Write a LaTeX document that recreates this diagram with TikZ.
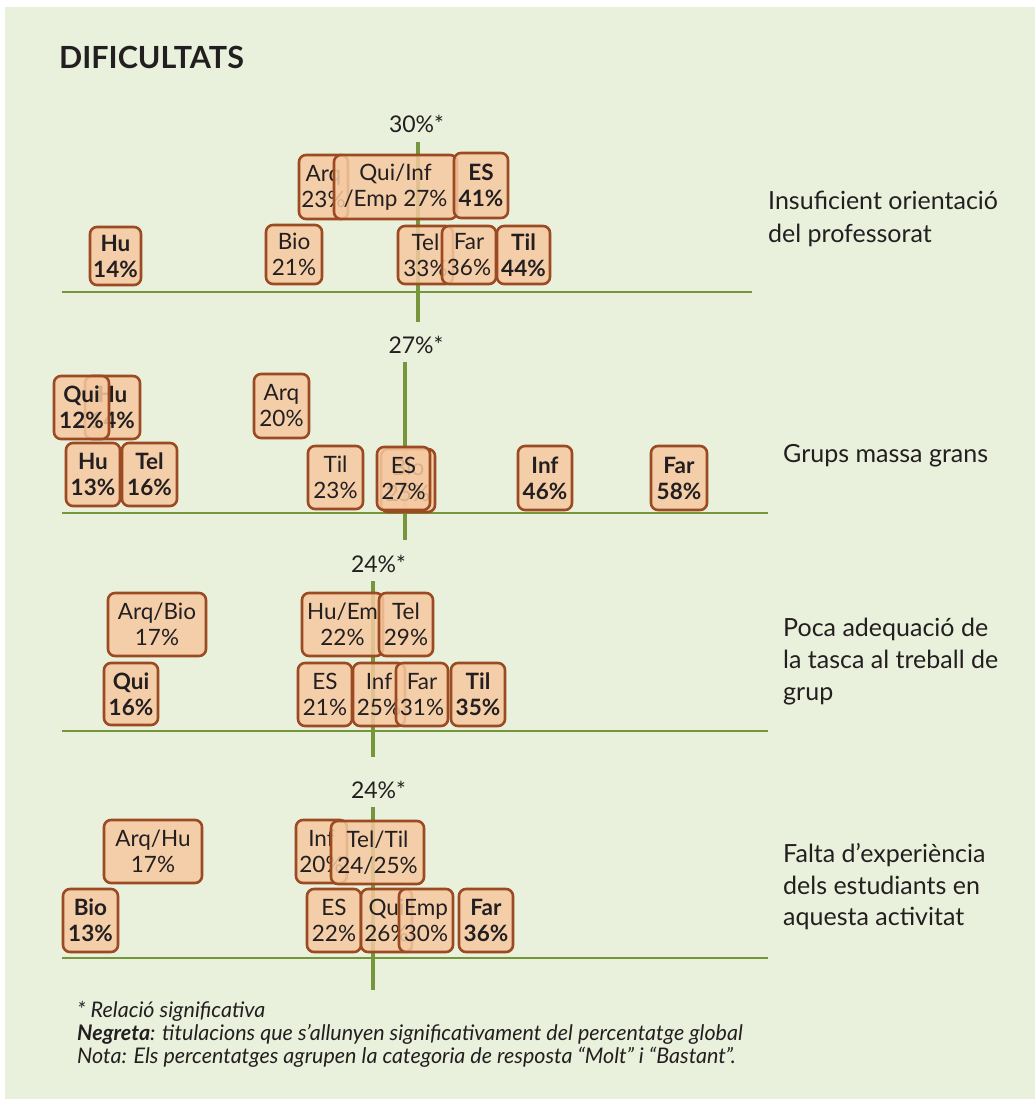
\documentclass[tikz,border=0pt]{standalone}
\usepackage{fontspec}
\setmainfont{Lato}
\definecolor{bg}{HTML}{E9F0DC}
\definecolor{grn}{HTML}{76963C}
\definecolor{boxfill}{HTML}{F6C9A0}
\definecolor{boxedge}{HTML}{9B4A22}
\definecolor{txt}{HTML}{231F20}
\begin{document}
\begin{tikzpicture}[x=1pt,y=-1pt,
  bx/.style={draw=boxedge, line width=2.6pt, fill=boxfill, fill opacity=0.85, draw opacity=1, text opacity=1, rounded corners=7pt, inner sep=0pt, align=center, text=txt, font=\fontsize{22.5}{26}\selectfont},
  bbx/.style={bx, font=\fontsize{22.5}{26}\selectfont\bfseries},
  gl/.style={draw=grn, line width=4pt},
  hl/.style={draw=grn, line width=2pt},
  pct/.style={anchor=base, text=txt, inner sep=0pt, font=\fontsize{23}{27}\selectfont},
  lab/.style={anchor=base west, text=txt, inner sep=0pt, font=\fontsize{25}{32}\selectfont},
  foot/.style={anchor=base west, text=txt, inner sep=0pt, font=\fontsize{21.5}{23}\selectfont\itshape},
]
\useasboundingbox (0,0) rectangle (1035,1099);
\fill[white] (0,0) rectangle (1035,1099);
\fill[bg] (5,7) rectangle (1035,1099);

% title
\node[anchor=base west, inner sep=0pt, text=txt, font=\fontsize{30.5}{34}\selectfont\bfseries] (title) at (59,69) {DIFICULTATS};

% ---------- panel 1 ----------
\coordinate (v1t) at (418,142); \coordinate (v1b) at (418,322);
\coordinate (h1l) at (62,292); \coordinate (h1r) at (752,292);
\draw[hl] (h1l) -- (h1r);
\draw[gl] (v1t) -- (v1b);
\node[pct] (p1pct) at (416.5,133) {30\%*};
\node[bx, minimum width=49pt, minimum height=64pt] (p1arq) at (323.5,187) {Arq\\23\%};
\node[bx, minimum width=123pt, minimum height=64pt] (p1qui) at (395.5,187) {Qui/Inf\\/Emp 27\%};
\node[bbx, minimum width=54pt, minimum height=65pt] (p1es) at (481,185.5) {ES\\41\%};
\node[bbx, minimum width=51pt, minimum height=58pt] (p1hu) at (115.5,256) {Hu\\14\%};
\node[bx, minimum width=56pt, minimum height=59pt] (p1bio) at (294,254.5) {Bio\\21\%};
\node[bx, minimum width=55pt, minimum height=58pt] (p1tel) at (425.5,255) {Tel\\33\%};
\node[bx, minimum width=54pt, minimum height=58pt] (p1far) at (469,255) {Far\\36\%};
\node[bbx, minimum width=53pt, minimum height=58pt] (p1til) at (523.5,255) {Til\\44\%};
\node[lab] (l1a) at (768,210) {Insuficient orientació};
\node[lab] (l1b) at (768,242) {del professorat};

% ---------- panel 2 ----------
\coordinate (v2t) at (405,362); \coordinate (v2b) at (405,540);
\coordinate (h2l) at (62,513); \coordinate (h2r) at (768,513);
\draw[hl] (h2l) -- (h2r);
\draw[gl] (v2t) -- (v2b);
\node[pct] (p2pct) at (416,353) {27\%*};
\node[bbx, minimum width=55pt, minimum height=63pt] (p2hua) at (112.5,407.5) {Hu\\14\%};
\node[bbx, minimum width=55pt, minimum height=63pt] (p2qui) at (81.5,407.5) {Qui\\12\%};
\node[bx, minimum width=55pt, minimum height=64pt] (p2arq) at (281.5,406) {Arq\\20\%};
\node[bbx, minimum width=54pt, minimum height=63pt] (p2hu) at (93,474.5) {Hu\\13\%};
\node[bbx, minimum width=55pt, minimum height=63pt] (p2tel) at (149.5,474.5) {Tel\\16\%};
\node[bx, minimum width=55pt, minimum height=63pt] (p2til) at (335.5,477.5) {Til\\23\%};
\node[bx, minimum width=54pt, minimum height=63pt] (p2hid) at (408,480.5) {Bio\\25\%};
\node[bx, minimum width=53pt, minimum height=63pt] (p2es) at (403.5,478.5) {ES\\27\%};
\node[bbx, minimum width=54pt, minimum height=64pt] (p2inf) at (545,478) {Inf\\46\%};
\node[bbx, minimum width=56pt, minimum height=64pt] (p2far) at (679,478) {Far\\58\%};
\node[lab] (l2a) at (783,462) {Grups massa grans};

% ---------- panel 3 ----------
\coordinate (v3t) at (373,581); \coordinate (v3b) at (373,757);
\coordinate (h3l) at (62,731); \coordinate (h3r) at (768,731);
\draw[hl] (h3l) -- (h3r);
\draw[gl] (v3t) -- (v3b);
\node[pct] (p3pct) at (378.5,572) {24\%*};
\node[bx, minimum width=98pt, minimum height=63pt] (p3arqbio) at (157,624.5) {Arq/Bio\\17\%};
\node[bx, minimum width=81pt, minimum height=63pt] (p3huem) at (342.5,624.5) {Hu/Em\\22\%};
\node[bx, minimum width=54pt, minimum height=63pt] (p3tel) at (406,624.5) {Tel\\29\%};
\node[bbx, minimum width=54pt, minimum height=62pt] (p3qui) at (131,694) {Qui\\16\%};
\node[bx, minimum width=54pt, minimum height=63pt] (p3es) at (325,694.5) {ES\\21\%};
\node[bx, minimum width=52pt, minimum height=63pt] (p3inf) at (379,694.5) {Inf\\25\%};
\node[bx, minimum width=52pt, minimum height=63pt] (p3far) at (422,694.5) {Far\\31\%};
\node[bbx, minimum width=54pt, minimum height=63pt] (p3til) at (478,694.5) {Til\\35\%};
\node[lab] (l3a) at (783,636) {Poca adequació de};
\node[lab] (l3b) at (783,668) {la tasca al treball de};
\node[lab] (l3c) at (783,700) {grup};

% ---------- panel 4 ----------
\coordinate (v4t) at (373,807); \coordinate (v4b) at (373,990);
\coordinate (h4l) at (62,958); \coordinate (h4r) at (768,958);
\draw[hl] (h4l) -- (h4r);
\draw[gl] (v4t) -- (v4b);
\node[pct] (p4pct) at (378.5,798) {24\%*};
\node[bx, minimum width=98pt, minimum height=63pt] (p4arqhu) at (153,851.5) {Arq/Hu\\17\%};
\node[bx, minimum width=51pt, minimum height=63pt] (p4inf) at (321.5,851.5) {Inf\\20\%};
\node[bx, minimum width=93pt, minimum height=63pt] (p4teltil) at (377.5,852.5) {Tel/Til\\24/25\%};
\node[bbx, minimum width=55pt, minimum height=63pt] (p4bio) at (90.5,920.5) {Bio\\13\%};
\node[bx, minimum width=54pt, minimum height=63pt] (p4es) at (334,920.5) {ES\\22\%};
\node[bx, minimum width=51pt, minimum height=63pt] (p4qui) at (386.5,920.5) {Qui\\26\%};
\node[bx, minimum width=54pt, minimum height=63pt] (p4emp) at (426,920.5) {Emp\\30\%};
\node[bbx, minimum width=54pt, minimum height=63pt] (p4far) at (486,920.5) {Far\\36\%};
\node[lab] (l4a) at (783,862) {Falta d’experiència};
\node[lab] (l4b) at (783,894) {dels estudiants en};
\node[lab] (l4c) at (783,925) {aquesta activitat};

% ---------- footer ----------
\node[foot] (f1) at (77,1017) {* Relació significativa};
\node[foot] (f2) at (77,1040) {\textbf{Negreta}: titulacions que s’allunyen significativament del percentatge global};
\node[foot] (f3) at (77,1063) {Nota: Els percentatges agrupen la categoria de resposta “Molt” i “Bastant”.};
\end{tikzpicture}
\end{document}
